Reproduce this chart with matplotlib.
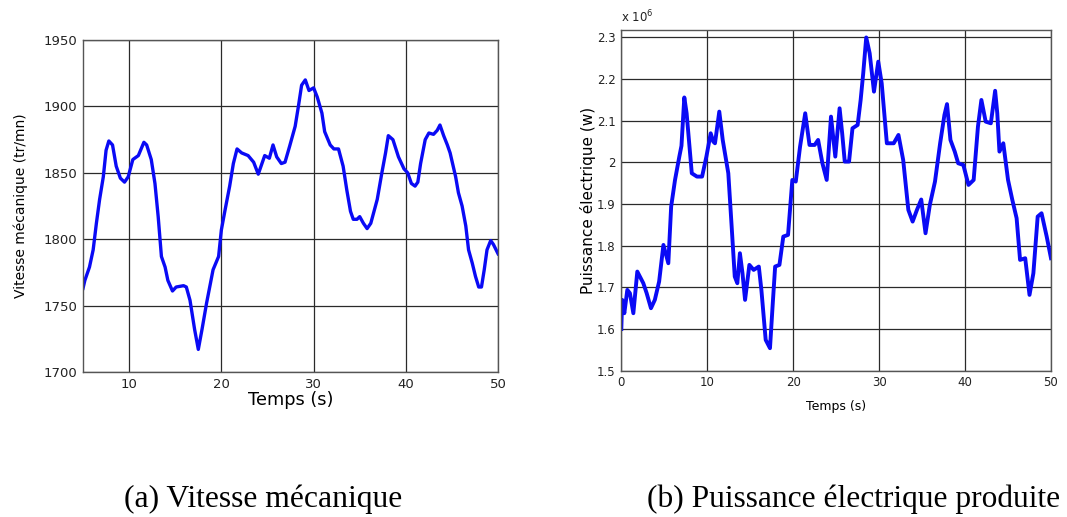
import matplotlib
matplotlib.use("Agg")
import matplotlib.pyplot as plt
from matplotlib.ticker import FuncFormatter

# ---- data: (a) mechanical speed ----
t_speed = [5.0, 5.2, 5.7, 6.1, 6.45, 6.8, 7.2, 7.5, 7.8, 8.2, 8.6, 9.05, 9.5, 9.9,
           10.4, 11.0, 11.3, 11.6, 11.9, 12.4, 12.8, 13.15, 13.5, 13.9, 14.2, 14.7,
           15.1, 15.9, 16.2, 16.6, 17.1, 17.5, 17.9, 18.4, 19.1, 19.7, 20.0, 20.4,
           20.9, 21.3, 21.7, 22.2, 22.9, 23.5, 24.0, 24.4, 24.7, 25.2, 25.6, 26.0,
           26.5, 26.9, 27.4, 28.0, 28.35, 28.7, 29.1, 29.5, 30.0, 30.4, 30.9, 31.2,
           31.8, 32.2, 32.7, 33.2, 33.6, 34.0, 34.3, 34.7, 35.0, 35.4, 35.8, 36.2,
           36.9, 37.4, 37.8, 38.1, 38.6, 39.2, 39.8, 40.2, 40.6, 41.0, 41.3, 41.6,
           42.1, 42.5, 43.0, 43.4, 43.7, 44.1, 44.5, 44.8, 45.4, 45.7, 46.1, 46.5,
           46.8, 47.2, 47.55, 47.9, 48.2, 48.5, 48.8, 49.2, 49.5, 50.0]
speed = [1763, 1769, 1779, 1792, 1812, 1830, 1847, 1867, 1874, 1871, 1855, 1846, 1843, 1847,
         1860, 1863, 1868, 1873, 1871, 1860, 1842, 1817, 1787, 1779, 1769, 1761,
         1764, 1765, 1764, 1754, 1732, 1717, 1732, 1752, 1777, 1787, 1807, 1822,
         1840, 1857, 1868, 1865, 1863, 1858, 1849, 1857, 1863, 1861, 1871, 1862,
         1857, 1858, 1870, 1885, 1900, 1916, 1920, 1912, 1914, 1907, 1895, 1881,
         1871, 1868, 1868, 1855, 1837, 1821, 1815, 1815, 1817, 1812, 1808, 1812,
         1830, 1850, 1865, 1878, 1875, 1862, 1853, 1850, 1842, 1840, 1843, 1857,
         1875, 1880, 1879, 1882, 1886, 1878, 1871, 1865, 1847, 1835, 1825, 1810,
         1792, 1782, 1772, 1764, 1764, 1777, 1792, 1799, 1796, 1789]

# ---- data: (b) electrical power (x 10^6 W) ----
t_power = [0.0, 0.1, 0.35, 0.7, 1.0, 1.4, 1.86, 2.56, 2.95, 3.45, 3.9, 4.4, 4.9, 5.47,
           5.8, 6.25, 6.75, 7.0, 7.33, 7.6, 8.2, 8.8, 9.4, 9.9, 10.4, 10.7, 10.9,
           11.4, 11.8, 12.45, 12.84, 13.2, 13.5, 13.8, 14.1, 14.4, 14.9, 15.4, 16.0,
           16.3, 16.8, 17.3, 17.6, 17.9, 18.4, 18.85, 19.4, 19.9, 20.3, 20.8, 21.4,
           21.9, 22.5, 22.9, 23.4, 23.9, 24.4, 24.9, 25.4, 25.7, 26.0, 26.5, 26.9,
           27.5, 27.85, 28.15, 28.5, 28.9, 29.4, 29.9, 30.3, 30.9, 31.7, 32.25, 32.8,
           33.4, 33.9, 34.4, 34.9, 35.4, 35.9, 36.5, 37.1, 37.6, 37.9, 38.3, 38.8,
           39.2, 39.8, 40.4, 41.0, 41.5, 41.9, 42.4, 43.0, 43.5, 43.75, 44.0, 44.45,
           45.0, 45.5, 46.0, 46.4, 47.0, 47.5, 47.95, 48.45, 48.9, 49.5, 50.0]
power = [1.600, 1.670, 1.638, 1.694, 1.686, 1.638, 1.738, 1.710, 1.686, 1.650, 1.670, 1.714, 1.802, 1.758,
         1.894, 1.958, 2.014, 2.040, 2.156, 2.118, 1.974, 1.966, 1.966, 2.014, 2.070, 2.050, 2.046,
         2.122, 2.054, 1.974, 1.846, 1.726, 1.710, 1.782, 1.734, 1.670, 1.754, 1.742, 1.750,
         1.694, 1.574, 1.554, 1.654, 1.750, 1.754, 1.822, 1.826, 1.958, 1.954, 2.038, 2.118,
         2.042, 2.042, 2.054, 1.998, 1.958, 2.110, 2.014, 2.130, 2.070, 2.002, 2.002, 2.082,
         2.090, 2.150, 2.214, 2.300, 2.262, 2.170, 2.242, 2.190, 2.046, 2.046, 2.066, 2.006,
         1.886, 1.858, 1.886, 1.911, 1.830, 1.898, 1.954, 2.046, 2.114, 2.140, 2.054, 2.026,
         1.998, 1.994, 1.946, 1.958, 2.086, 2.150, 2.098, 2.094, 2.172, 2.118, 2.026, 2.046,
         1.958, 1.910, 1.866, 1.766, 1.770, 1.682, 1.734, 1.870, 1.878, 1.822, 1.770]

speed_xticks = [10, 20, 30, 40, 50]
speed_yticks = [1700, 1750, 1800, 1850, 1900, 1950]
power_xticks = [0, 10, 20, 30, 40, 50]
power_yticks = [1.5, 1.6, 1.7, 1.8, 1.9, 2.0, 2.1, 2.2, 2.3]

LINE = "#0a0af5"
GRID = "#2a2a2a"
SPINE = "#555555"

fig = plt.figure(figsize=(10.67, 5.17), dpi=100)
fig.patch.set_facecolor("white")

ax1 = fig.add_axes([0.0778, 0.2805, 0.389, 0.642])
ax2 = fig.add_axes([0.5823, 0.283, 0.4027, 0.659])

for ax in (ax1, ax2):
    ax.grid(True, color=GRID, linewidth=0.9)
    ax.set_axisbelow(True)
    for s in ax.spines.values():
        s.set_color(SPINE)
        s.set_linewidth(1.0)
    ax.tick_params(direction="in", length=0, colors="#222222", pad=4)

ax1.plot(t_speed, speed, color=LINE, linewidth=2.4)
ax1.set_xlim(5, 50)
ax1.set_ylim(1700, 1950)
ax1.set_xticks(speed_xticks)
ax1.set_yticks(speed_yticks)
ax1.tick_params(labelsize=9.5)
ax1.set_xlabel("Temps (s)", fontsize=12.8, labelpad=0)
ax1.set_ylabel("Vitesse mécanique (tr/mn)", fontsize=10, labelpad=11)

ax2.plot(t_power, power, color=LINE, linewidth=2.8)
ax2.set_xlim(0, 50)
ax2.set_ylim(1.5, 2.318)
ax2.set_xticks(power_xticks)
ax2.set_yticks(power_yticks)
ax2.tick_params(labelsize=8.5)
ax2.yaxis.set_major_formatter(FuncFormatter(lambda v, p: "%g" % round(v, 2)))
ax2.set_xlabel("Temps (s)", fontsize=9, labelpad=8)
ax2.set_ylabel("Puissance électrique (w)", fontsize=11, labelpad=1)
ax2.text(0.0, 1.015, r"x 10$^6$", transform=ax2.transAxes, fontsize=8.5,
         ha="left", va="bottom", color="#222222")

fig.text(0.2465, 0.019, "(a) Vitesse mécanique", fontsize=22.8,
         family="Liberation Serif", ha="center", va="baseline")
fig.text(0.80, 0.019, "(b) Puissance électrique produite", fontsize=22.6,
         family="Liberation Serif", ha="center", va="baseline")

fig.savefig("out.png", dpi=100, facecolor="white")
